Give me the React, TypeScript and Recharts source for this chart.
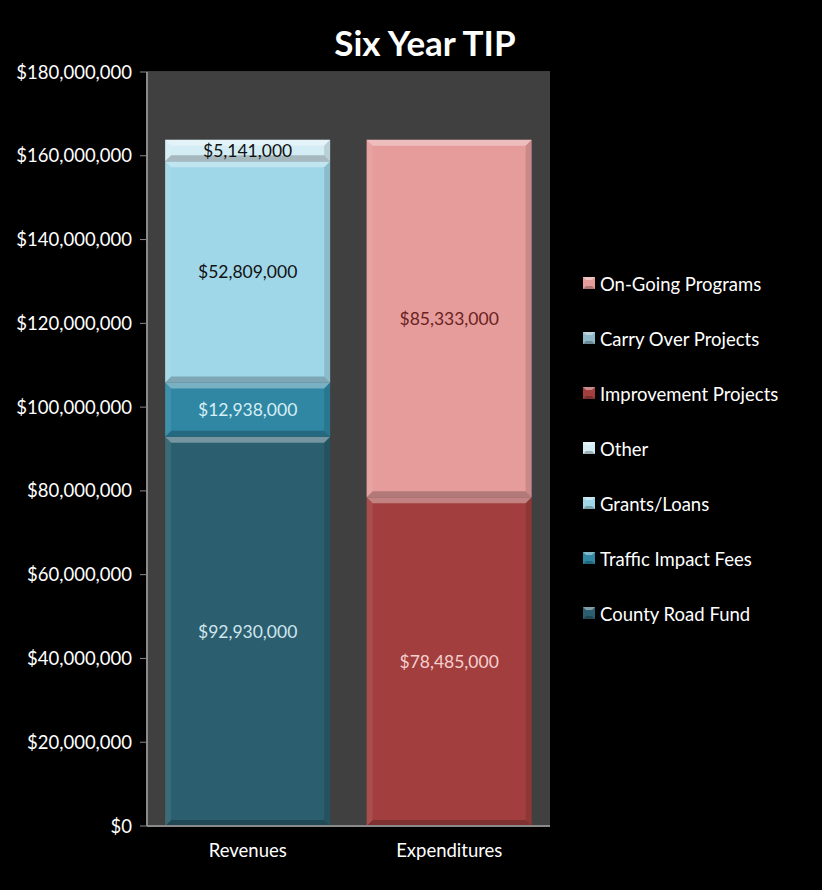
import React from "react";
import { BarChart, Bar, XAxis, YAxis, CartesianGrid, LabelList } from "recharts";

const categories = ["Revenues", "Expenditures"];
const seriesNames = [
  "County Road Fund",
  "Traffic Impact Fees",
  "Grants/Loans",
  "Other",
  "Improvement Projects",
  "Carry Over Projects",
  "On-Going Programs",
];
const revenueValues = [92930000, 12938000, 52809000, 5141000, null, null, null];
const expenditureValues = [null, null, null, null, 78485000, 0, 85333000];
const seriesColors = ["#2b5e6e", "#2f87a3", "#a0d7e8", "#d4edf5", "#a23f3e", "#8fb8c8", "#e59c9b"];
const labelColors = ["#cfe6ee", "#d6eef6", "#111111", "#111111", "#f6cfcf", "#111111", "#6a2222"];
const yTicks = [0, 20000000, 40000000, 60000000, 80000000, 100000000, 120000000, 140000000, 160000000, 180000000];

const data = categories.map((c, ci) => {
  const row: any = { name: c };
  seriesNames.forEach((s, si) => {
    row["s" + si] = ci === 0 ? revenueValues[si] : expenditureValues[si];
  });
  return row;
});

const FONT = "Lato, 'Open Sans', sans-serif";
const fmt = (v: number) => "$" + v.toLocaleString("en-US");

const BevelBar = (props: any) => {
  const { x, y, width, height, fill } = props;
  if (!height || height <= 0) return null;
  const b = Math.min(6, height / 3);
  return (
    <g>
      <rect x={x} y={y} width={width} height={height} fill={fill} />
      <polygon points={`${x},${y} ${x + width},${y} ${x + width - b},${y + b} ${x + b},${y + b}`} fill="#ffffff" fillOpacity={0.35} />
      <polygon points={`${x},${y + height} ${x + width},${y + height} ${x + width - b},${y + height - b} ${x + b},${y + height - b}`} fill="#000000" fillOpacity={0.22} />
      <polygon points={`${x},${y} ${x + b},${y + b} ${x + b},${y + height - b} ${x},${y + height}`} fill="#ffffff" fillOpacity={0.08} />
      <polygon points={`${x + width},${y} ${x + width - b},${y + b} ${x + width - b},${y + height - b} ${x + width},${y + height}`} fill="#000000" fillOpacity={0.12} />
    </g>
  );
};

const makeLabel = (color: string) => (props: any) => {
  const { x, y, width, height, value } = props;
  if (!value) return null;
  return (
    <text
      x={x + width / 2}
      y={y + height / 2}
      textAnchor="middle"
      dominantBaseline="central"
      fill={color}
      fontSize={17.5}
      fontFamily={FONT}
    >
      {fmt(value)}
    </text>
  );
};

export default function App() {
  const legendItems = seriesNames.map((n, i) => ({ n, c: seriesColors[i] })).reverse();
  return (
    <div style={{ position: "absolute", left: 0, top: 0, width: 822, height: 890, background: "#000", overflow: "hidden" }}>
      <div
        style={{
          position: "absolute",
          left: 147,
          width: 556,
          top: 20,
          lineHeight: "44px",
          textAlign: "center",
          color: "#fff",
          fontFamily: FONT,
          fontWeight: 700,
          fontSize: 35,
        }}
      >
        Six Year TIP
      </div>
      <BarChart
        width={822}
        height={890}
        data={data}
        margin={{ top: 72, right: 272, left: 0, bottom: 0 }}
        barCategoryGap="9%"
      >
        <rect x={147} y={72} width={403} height={754} fill="#404040" />
        <CartesianGrid vertical={false} stroke="#7a7a7a" horizontalValues={yTicks} />
        <XAxis
          dataKey="name"
          height={64}
          tick={{ fill: "#ffffff", fontSize: 18.5, fontFamily: FONT }}
          tickLine={false}
          axisLine={{ stroke: "#8a8a8a", strokeWidth: 2 }}
          tickMargin={12}
        />
        <YAxis
          width={147}
          domain={[0, 180000000]}
          ticks={yTicks}
          tickFormatter={fmt}
          tick={{ fill: "#ffffff", fontSize: 18.5, fontFamily: FONT }}
          tickLine={{ stroke: "#8a8a8a" }}
          tickSize={7}
          tickMargin={8}
          axisLine={{ stroke: "#8a8a8a", strokeWidth: 2 }}
          interval={0}
        />
        {seriesNames.map((s, i) => (
          <Bar
            key={s}
            dataKey={"s" + i}
            name={s}
            stackId="a"
            fill={seriesColors[i]}
            shape={BevelBar}
            isAnimationActive={false}
          >
            <LabelList dataKey={"s" + i} content={makeLabel(labelColors[i])} />
          </Bar>
        ))}
      </BarChart>
      <div style={{ position: "absolute", left: 583, top: 256 }}>
        {legendItems.map((it) => (
          <div key={it.n} style={{ display: "flex", alignItems: "center", height: 55, marginTop: 0 }}>
            <div style={{ height: 24, display: "flex", alignItems: "center" }}>
              <svg width={13} height={13} style={{ marginRight: 4 }}>
                <rect x={0} y={0} width={12} height={12} fill={it.c} />
                <polygon points="0,0 12,0 9,3 3,3" fill="#fff" fillOpacity={0.4} />
                <polygon points="0,12 12,12 9,9 3,9" fill="#000" fillOpacity={0.25} />
              </svg>
              <span style={{ color: "#fff", fontFamily: FONT, fontSize: 18.5 }}>{it.n}</span>
            </div>
          </div>
        ))}
      </div>
    </div>
  );
}
